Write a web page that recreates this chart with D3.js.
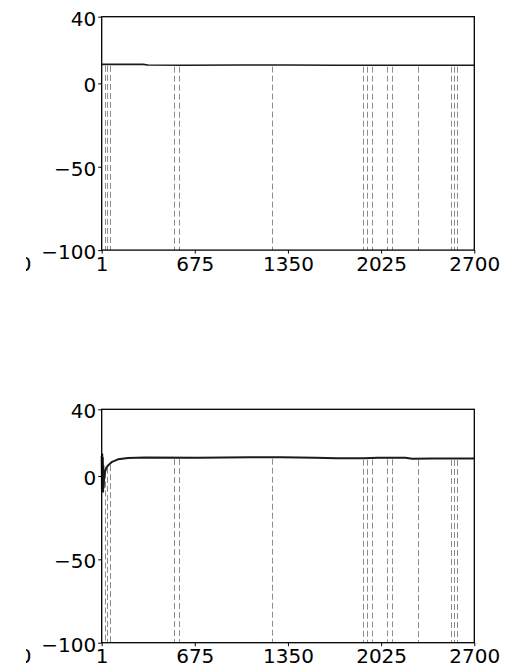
<!DOCTYPE html>
<html>
<head>
<meta charset="utf-8">
<script src="https://cdn.jsdelivr.net/npm/d3@7"></script>
<style>
  html, body { margin: 0; padding: 0; background: #fff; }
  svg { display: block; }
  text { font-family: "DejaVu Sans", sans-serif; font-size: 20px; fill: #000; }
</style>
</head>
<body>
<svg id="chart" width="519" height="665"></svg>
<script>
// ---- data ----
const xTicks = [1, 675, 1350, 2025, 2700];
const yTicks = [40, 0, -50, -100];
const markerX = [27, 42, 61, 525, 562, 1232, 1896, 1921, 1957, 2070, 2102, 2290, 2529, 2553, 2577];
const topSeries = [
  [1, 11.4], [300, 11.4], [336, 11.0], [600, 10.9], [1000, 11.0], [1350, 11.0],
  [1700, 10.9], [2025, 10.9], [2400, 10.9], [2700, 10.9]
];
const bottomSeries = [
  [1, 12], [3, -8], [5, 13], [7, -9], [9, 11], [11, -9.5], [13, 6], [15, -7],
  [18, -2], [22, 1], [25, 2.5], [35, 5], [49, 6.5], [76, 8.5], [119, 10],
  [192, 10.8], [315, 11.1], [700, 11.0], [1075, 11.2], [1300, 11.3], [1550, 11.0],
  [1700, 10.6], [1900, 10.6], [2000, 10.9], [2200, 10.9], [2250, 10.4],
  [2400, 10.5], [2700, 10.5]
];

const svg = d3.select("#chart");
const W = 519;
const left = 101.7, right = 474.3;
const panels = [
  { top: 16.7, bottom: 250.1, data: topSeries, lw: 1.6 },
  { top: 409.3, bottom: 642.7, data: bottomSeries, lw: 2 }
];

svg.append("defs").append("clipPath").attr("id", "leftclip")
  .append("rect").attr("x", 26).attr("y", 0).attr("width", 100).attr("height", 665);

function valueAt(data, x) {
  const bis = d3.bisector(d => d[0]).left;
  let i = bis(data, x);
  if (i <= 0) return data[0][1];
  if (i >= data.length) return data[data.length - 1][1];
  const a = data[i - 1], b = data[i];
  const t = (x - a[0]) / (b[0] - a[0]);
  return a[1] + t * (b[1] - a[1]);
}

panels.forEach(p => {
  const x = d3.scaleLinear().domain([1, 2700]).range([left, right]);
  const y = d3.scaleLinear().domain([-100, 40]).range([p.bottom, p.top]);
  const g = svg.append("g");

  // dashed markers from the line down to the bottom
  g.selectAll("line.mk").data(markerX).join("line")
    .attr("class", "mk")
    .attr("x1", d => Math.round(x(d)) + 0.5).attr("x2", d => Math.round(x(d)) + 0.5)
    .attr("y1", d => y(valueAt(p.data, d)) + 1.5)
    .attr("y2", y(-100))
    .attr("stroke", "#8c8c8c").attr("stroke-width", 1)
    .attr("stroke-dasharray", "6,3");

  // data line
  g.append("path").datum(p.data)
    .attr("d", d3.line().x(d => x(d[0])).y(d => y(d[1])))
    .attr("fill", "none").attr("stroke", "#1a1a1a").attr("stroke-width", p.lw)
    .attr("stroke-linejoin", "round");

  // frame
  g.append("rect").attr("x", left).attr("y", p.top)
    .attr("width", right - left).attr("height", p.bottom - p.top)
    .attr("fill", "none").attr("stroke", "#000").attr("stroke-width", 1.3);

  // y axis ticks + labels
  const yAxis = d3.axisLeft(y).tickValues(yTicks).tickSize(3.5).tickPadding(2)
    .tickFormat(d => d < 0 ? "\u2212" + Math.abs(d) : String(d));
  const ya = g.append("g").attr("transform", `translate(${left},0)`).call(yAxis);
  ya.select(".domain").remove();
  ya.selectAll(".tick line").attr("stroke", "#000").attr("stroke-width", 1);
  ya.selectAll(".tick text").attr("font-size", 20).attr("font-family", "DejaVu Sans")
    .attr("fill", "#000").attr("dy", null).attr("y", 8.3).attr("x", -5.5);

  // x axis ticks + labels
  const xAxis = d3.axisBottom(x).tickValues(xTicks).tickSize(3.5).tickPadding(2)
    .tickFormat(d3.format("d"));
  const xa = g.append("g").attr("transform", `translate(0,${p.bottom})`).call(xAxis);
  xa.select(".domain").remove();
  xa.selectAll(".tick line").attr("stroke", "#000").attr("stroke-width", 1);
  xa.selectAll(".tick text").attr("font-size", 20).attr("font-family", "DejaVu Sans")
    .attr("fill", "#000").attr("dy", null).attr("y", 20.5);

  // clipped leftover label at the far left edge
  g.append("text").attr("clip-path", "url(#leftclip)")
    .attr("x", 31.5).attr("y", p.bottom + 20.5).attr("text-anchor", "end")
    .text("0");
});
</script>
</body>
</html>
